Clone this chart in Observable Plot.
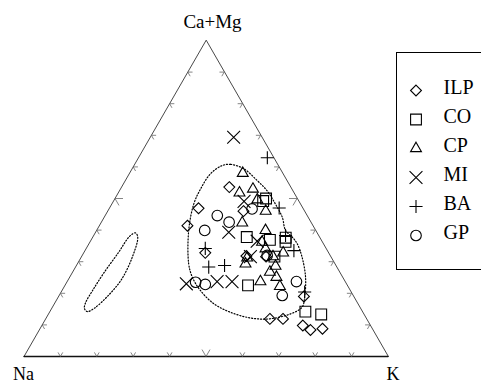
<!DOCTYPE html>
<html><head><meta charset="utf-8">
<script src="https://cdn.jsdelivr.net/npm/d3@7"></script>
<script src="https://cdn.jsdelivr.net/npm/@observablehq/plot@0.6"></script>
<style>
html,body{margin:0;padding:0;background:#fff;overflow:hidden;width:481px;height:382px;}
#wrap{position:relative;width:481px;height:382px;overflow:hidden;}
#chart{position:absolute;left:0;top:0;}
#legend{position:absolute;left:396px;top:52px;width:85px;height:216px;border:1.3px solid #000;border-right:none;background:#fff;overflow:hidden;}
</style></head><body><div id="wrap"><div id="chart"></div><div id="legend"></div></div>
<script>
// Compositions as [Ca+Mg, Na, K] in %
const groups = ["ILP","CO","CP","MI","BA","GP"];
const ILP = [[53.6,16.8,29.6],[46.9,28.6,24.5],[41.4,34.4,24.2],[46.0,16.7,37.3],[32.8,33.8,33.4],[19.0,13.6,67.4],[11.9,26.5,61.6],[11.9,22.9,65.2],[9.8,18.5,71.7],[8.4,17.1,74.5],[8.8,13.6,77.6],[31.8,23.0,45.2],[31.6,17.7,50.7]];
const CO = [[50.0,8.5,41.5],[49.2,9.7,41.1],[37.8,19.9,42.3],[36.9,14.0,49.1],[37.6,9.3,53.1],[36.3,10.0,53.7],[31.6,15.4,53.0],[22.5,27.2,50.3],[14.2,15.6,70.2],[13.3,11.7,75.0]];
const CP = [[58.0,10.9,31.1],[51.8,14.9,33.3],[53.0,10.6,36.4],[49.6,11.1,39.3],[46.0,10.6,43.4],[42.3,18.9,38.8],[39.9,13.7,46.4],[36.2,16.5,47.3],[34.1,16.6,49.3],[29.3,24.5,46.2],[31.2,23.1,45.7],[32.8,12.4,54.8],[26.7,19.1,54.2],[28.6,16.6,54.8],[25.1,18.1,56.8],[23.7,23.2,53.1],[22.2,18.6,59.2],[31.6,15.8,52.6]];
const MI = [[69.4,7.7,22.9],[49.1,15.0,35.9],[39.3,24.1,36.6],[36.5,17.7,45.8],[31.6,22.0,46.4],[23.0,43.9,33.1],[23.7,35.1,41.2],[23.7,31.0,45.3]];
const BA = [[62.9,1.7,35.4],[47.0,6.4,46.6],[38.3,9.0,52.7],[33.5,9.1,57.4],[34.2,33.1,32.7],[28.3,35.1,36.6],[28.8,30.5,40.7],[20.4,12.7,66.9]];
const GP = [[44.6,24.6,30.8],[42.5,22.4,35.1],[39.9,30.4,29.7],[46.7,14.0,39.3],[23.5,41.1,35.4],[22.8,38.8,38.4],[23.7,13.3,63.0],[19.3,19.4,61.3],[32.0,17.2,50.8]];
// dotted field outlines [Ca+Mg, Na, K]
const fieldMain = [[60.4,15.4,24.2],[60.8,12.8,26.4],[59.4,9.9,30.7],[55.7,8.1,36.2],[52.5,7.0,40.5],[48.3,6.8,44.9],[44.1,7.0,48.9],[39.9,8.2,51.9],[37.8,7.4,54.8],[35.7,7.1,57.2],[31.4,7.9,60.7],[25.1,10.1,64.8],[18.8,13.5,67.7],[15.6,15.8,68.6],[13.5,20.0,66.5],[11.9,26.8,61.3],[12.2,31.7,56.1],[14.0,36.3,49.7],[16.7,39.5,43.8],[20.9,41.1,38.0],[25.1,41.2,33.7],[29.3,40.1,30.6],[39.9,34.8,25.3],[48.3,29.2,22.5],[53.1,24.9,22.0],[57.8,19.9,22.3]];
const fieldSmall = [[39.1,49.8,11.1],[37.7,49.9,12.4],[31.6,54.4,14.0],[24.4,61.0,14.6],[19.0,67.6,13.4],[15.3,73.0,11.7],[14.2,75.5,10.3],[15.2,75.8,9.0],[17.1,74.5,8.4],[20.9,70.7,8.4],[26.3,65.0,8.7],[32.9,57.6,9.5],[38.0,52.0,10.0]];
const vertexLabels = ["Ca+Mg","Na","K"];
const vertices = [[100,0,0],[0,100,0],[0,0,100]];
const tickValues = [10,20,30,40,50,60,70,80,90];

const series = {ILP, CO, CP, MI, BA, GP};
const symbols = {ILP:"diamond2", CO:"square", CP:"triangle2", MI:"times", BA:"plus", GP:"circle"};
const radii = {ILP:4.9, CO:6.1, CP:5.2, MI:5.9, BA:4.3, GP:5.3};

const tx = d => d[2] + d[0] / 2;
const ty = d => d[0];

// tick segments in ternary space
const segs = [];
for (const t of tickValues) {
  const L = t === 50 ? 2.2 : 1.3;
  segs.push([[0,100-t,t],[L,100-t-L,t]]);
  segs.push([[0,100-t,t],[L,100-t,t-L]]);
  segs.push([[t,100-t,0],[t,100-t-L,L]]);
  segs.push([[t,100-t,0],[t-L,100-t,L]]);
  segs.push([[t,0,100-t],[t,L,100-t-L]]);
  segs.push([[t,0,100-t],[t-L,L,100-t]]);
}

const dotMarks = groups.map(g => Plot.dot(series[g], {x: tx, y: ty, symbol: symbols[g], r: radii[g], stroke: "#000", fill: "none", strokeWidth: 1.1}));

const chart = Plot.plot({
  width: 481, height: 382,
  marginTop: 0, marginRight: 0, marginBottom: 0, marginLeft: 0,
  x: {type: "linear", domain: [0,100], range: [23.5, 387.5], axis: null},
  y: {type: "linear", domain: [0,100], range: [356, 40], axis: null},
  style: {background: "#fff"},
  marks: [
    Plot.line(vertices, {x: tx, y: ty, curve: "linear-closed", stroke: "#333", strokeWidth: 0.9}),
    Plot.line([vertices[1], vertices[2]], {x: tx, y: ty, stroke: "#111", strokeWidth: 1.3}),
    Plot.link(segs, {x1: d => tx(d[0]), y1: d => ty(d[0]), x2: d => tx(d[1]), y2: d => ty(d[1]), stroke: "#666", strokeWidth: 0.8}),
    Plot.line(fieldMain, {x: tx, y: ty, curve: "catmull-rom-closed", stroke: "#000", strokeWidth: 1.2, strokeDasharray: "1.1,1.9"}),
    Plot.line(fieldSmall, {x: tx, y: ty, curve: "catmull-rom-closed", stroke: "#000", strokeWidth: 1.2, strokeDasharray: "1.1,1.9"}),
    ...dotMarks,
    Plot.text([vertexLabels[0]], {x: () => tx(vertices[0]), y: () => ty(vertices[0]), text: d => d, dx: 6.5, dy: -12.5, lineAnchor: "bottom", textAnchor: "middle", fontFamily: "Liberation Serif", fontSize: 19, fill: "#000"}),
    Plot.text([vertexLabels[1]], {x: () => tx(vertices[1]), y: () => ty(vertices[1]), text: d => d, dx: -0.5, dy: 23, lineAnchor: "bottom", textAnchor: "middle", fontFamily: "Liberation Serif", fontSize: 18, fill: "#000"}),
    Plot.text([vertexLabels[2]], {x: () => tx(vertices[2]), y: () => ty(vertices[2]), text: d => d, dx: 5, dy: 23, lineAnchor: "bottom", textAnchor: "middle", fontFamily: "Liberation Serif", fontSize: 18, fill: "#000"})
  ]
});
document.getElementById("chart").appendChild(chart);

const legendMarks = [];
for (const g of groups) {
  legendMarks.push(Plot.dot([g], {y: d => d, frameAnchor: "left", dx: 18.5, symbol: symbols[g], r: radii[g], stroke: "#000", fill: "none", strokeWidth: 1.1}));
}
legendMarks.push(Plot.text(groups, {y: d => d, text: d => d, frameAnchor: "left", dx: 46, dy: -3, textAnchor: "start", fontFamily: "Liberation Serif", fontSize: 20, fill: "#000"}));
const legend = Plot.plot({
  width: 85, height: 216,
  marginTop: 0, marginRight: 0, marginBottom: 0, marginLeft: 0,
  y: {type: "point", domain: groups, range: [22, 197], axis: null},
  style: {background: "#fff"},
  marks: legendMarks
});
document.getElementById("legend").appendChild(legend);
</script>
</body></html>
